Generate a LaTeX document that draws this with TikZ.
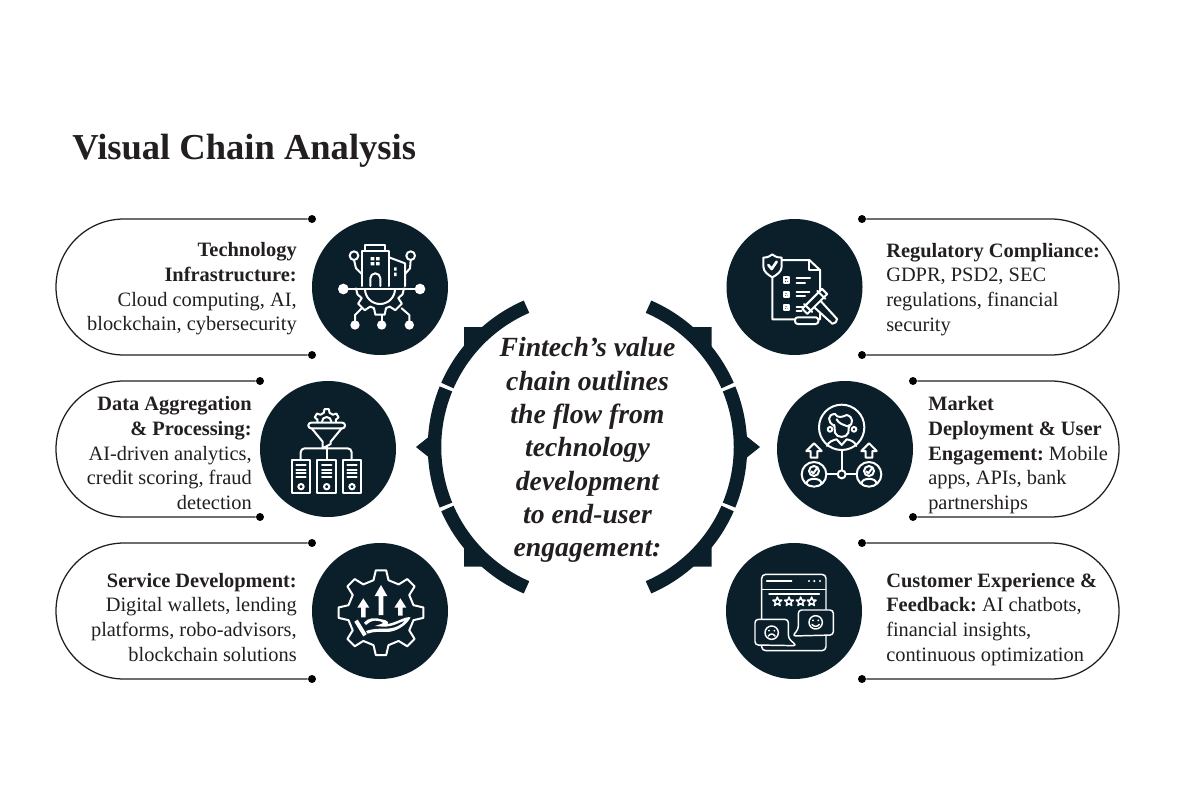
\documentclass[tikz,border=0pt]{standalone}
\usepackage{fontspec}
\setmainfont{Liberation Serif}
\frenchspacing
\definecolor{navy}{HTML}{0B1F2B}
\definecolor{ink}{HTML}{231F20}
\tikzset{
  hub/.style={circle,fill=navy,draw=none,minimum size=102pt,inner sep=0pt},
  tipdot/.style={circle,fill=black,draw=none,minimum size=6pt,inner sep=0pt},
  outline/.style={draw=ink,line width=0.95pt},
  ringarc/.style={draw=navy,line width=10.1pt},
  ic/.style={draw=white,line width=1.5pt,line join=round,line cap=round},
  icthin/.style={draw=white,line width=1.1pt,line join=round,line cap=round},
  icfill/.style={fill=white,draw=none},
  body/.style={inner sep=0pt,text=ink,font=\fontsize{15.3pt}{18.45pt}\selectfont},
  rightbody/.style={body,align=right,anchor=north east},
  leftbody/.style={body,align=left,anchor=north west},
  zoomA/.style={shift={(#1)},x=0.25pt,y=-0.25pt},
}
\newcommand{\firstline}{\rule{0pt}{15pt}}
\begin{document}
\begin{tikzpicture}[x=0.75pt,y=-0.75pt]
\useasboundingbox (0,0) rectangle (1200,800);
\fill[white] (0,0) rectangle (1200,800);
% title
\node[anchor=base west,inner sep=0pt,text=ink,font=\fontsize{27.4pt}{30pt}\selectfont\bfseries] (title) at (72,159) {Visual Chain Analysis};
% dots
\node[tipdot] (a1) at (312,219) {}; \node[tipdot] (a2) at (312,355) {};
\node[tipdot] (b1) at (260,381) {}; \node[tipdot] (b2) at (260,517) {};
\node[tipdot] (e1) at (312,543) {}; \node[tipdot] (e2) at (312,679) {};
\node[tipdot] (f1) at (862,219) {}; \node[tipdot] (f2) at (862,355) {};
\node[tipdot] (g1) at (913,381) {}; \node[tipdot] (g2) at (913,517) {};
\node[tipdot] (h1) at (862,543) {}; \node[tipdot] (h2) at (862,679) {};
% outlines
\draw[outline] (a1) -- (124,219) arc[start angle=270,end angle=90,radius=68] -- (a2);
\draw[outline] (b1) -- (124,381) arc[start angle=270,end angle=90,radius=68] -- (b2);
\draw[outline] (e1) -- (124,543) arc[start angle=270,end angle=90,radius=68] -- (e2);
\draw[outline] (f1) -- (1051,219) arc[start angle=270,end angle=450,radius=68] -- (f2);
\draw[outline] (g1) -- (1051,381) arc[start angle=270,end angle=450,radius=68] -- (g2);
\draw[outline] (h1) -- (1051,543) arc[start angle=270,end angle=450,radius=68] -- (h2);
% hubs
\node[hub] (c1) at (380,287) {};
\node[hub] (c2) at (328,449) {};
\node[hub] (c3) at (380,611) {};
\node[hub] (c4) at (794.5,287) {};
\node[hub] (c5) at (845,449) {};
\node[hub] (c6) at (794,611) {};
% ring
\begin{scope}[shift={(587.5,447)}]
\foreach \s/\e in {113.5/156.3,157.7/202.3,203.7/246.5,-66.5/-23.7,-22.3/22.3,23.7/66.5}
  \draw[ringarc] (\s:153) arc[start angle=\s,end angle=\e,radius=153];
\end{scope}
\fill[navy] (464,327) -- (486,327) -- (464,350) -- cycle;
\fill[navy] (711.7,327) -- (689.7,327) -- (711.7,350) -- cycle;
\fill[navy] (464,566.7) -- (486,566.7) -- (464,544) -- cycle;
\fill[navy] (711.7,566.7) -- (689.7,566.7) -- (711.7,544) -- cycle;
\fill[navy] (416,447) -- (431,435) -- (431,459) -- cycle;
\fill[navy] (760,447) -- (745,435) -- (745,459) -- cycle;
% texts
\node[rightbody] (t1) at (297,236.7) {\firstline\textbf{Technology}\\\textbf{Infrastructure:}\\Cloud computing, AI,\\blockchain, cybersecurity};
\node[rightbody] (t2) at (252,390.7) {\firstline\textbf{Data Aggregation}\\\textbf{\& Processing:}\\AI-driven analytics,\\credit scoring, fraud\\detection};
\node[rightbody] (t3) at (297,567) {\firstline\textbf{Service Development:}\\Digital wallets, lending\\platforms, robo-advisors,\\blockchain solutions};
\node[leftbody] (t4) at (886,237) {\firstline\textbf{Regulatory Compliance:}\\GDPR, PSD2, SEC\\regulations, financial\\security};
\node[leftbody] (t5) at (928,390.7) {\firstline\textbf{Market}\\\textbf{Deployment \& User}\\\textbf{Engagement:} Mobile\\apps, APIs, bank\\partnerships};
\node[leftbody] (t6) at (886,567) {\firstline\textbf{Customer Experience \&}\\\textbf{Feedback:} AI chatbots,\\financial insights,\\continuous optimization};
\node[inner sep=0pt,anchor=north,align=center,text=ink,font=\fontsize{20.8pt}{25pt}\selectfont\bfseries\itshape] (mid) at (587.5,330) {\rule{0pt}{20pt}Fintech’s value\\chain outlines\\the flow from\\technology\\development\\to end-user\\engagement:};
% icon 1
\begin{scope}[zoomA={50,200}]
\draw[ic] (945,152) -- (945,135) -- (1005,135) -- (1005,152);
\draw[ic] (935,258) -- (935,152) -- (1017,152) -- (1017,258);
\draw[ic] (1017,172) -- (1065,190) -- (1065,258);
\fill[white] (962,171) rectangle (973,181) (978,171) rectangle (989,181) (962,186) rectangle (973,196) (978,186) rectangle (989,196);
\fill[white] (1032,202) rectangle (1040,212) (1032,218) rectangle (1040,228);
\draw[ic] (961,258) -- (961,235) arc[start angle=180,end angle=360,radius=15] -- (991,258);
\draw[ic] (880,267) -- (1110,267);
\draw[ic] (945,267) arc[start angle=180,end angle=0,radius=45];
\begin{scope}[shift={(990,265)}]
\draw[ic] (180:72) -- (165:70) \foreach \a in {135,90,45} { -- (\a+17:62) -- (\a+10:80) -- (\a-10:80) -- (\a-17:62) } -- (15:70) -- (0:72);
\end{scope}
\draw[ic] (912,167) circle[radius=13];
\draw[ic] (1082,167) circle[radius=13];
\draw[ic] (912,180) -- (918,205) -- (935,222);
\draw[ic] (1082,180) -- (1080,205) -- (1065,222);
\fill[white] (880,267) circle[radius=16] (1110,267) circle[radius=16];
\fill[white] (915,375) circle[radius=14] (995,375) circle[radius=14] (1078,375) circle[radius=14];
\draw[ic] (915,375) -- (915,345) -- (935,325);
\draw[ic] (995,375) -- (995,345);
\draw[ic] (1078,375) -- (1078,345) -- (1055,325);
\end{scope}
% icon 2
\begin{scope}[zoomA={50,200}]
\begin{scope}[shift={(830,665)}]
\draw[ic] (180:28) \foreach \a in {-150,-90,-30} { -- (\a-18:28) -- (\a-10:38) -- (\a+10:38) -- (\a+18:28) } -- (0:28);
\draw[ic] (-14,0) arc[start angle=180,end angle=360,radius=14];
\end{scope}
\draw[ic,rounded corners=2pt] (775,668) rectangle (885,685);
\draw[ic] (785,685) -- (818,725) -- (818,745) -- (842,732) -- (842,725) -- (875,685);
\draw[ic] (830,740) -- (830,778);
\draw[ic,rounded corners=3pt] (752,778) -- (752,745) -- (905,745) -- (905,778);
\foreach \x in {725,802,878} {
  \draw[ic] (\x,780) rectangle (\x+56,880);
  \draw[ic] (\x+14,795) -- (\x+42,795);
  \draw[ic] (\x+14,810) -- (\x+42,810);
  \draw[ic] (\x+14,820) -- (\x+42,820);
  \draw[ic] (\x+14,830) -- (\x+42,830);
  \draw[ic] (\x+28,860) circle[radius=8];
}
\end{scope}
% icon 3
\begin{scope}[zoomA={300,530}]
\begin{scope}[shift={(243,248)}]
\draw[ic] (-13:100) \foreach \a in {0,45,...,315} { -- (\a-13:100) -- (\a-7:128) -- (\a+7:128) -- (\a+13:100) } -- cycle;
\end{scope}
\fill[white] (243,165) -- (262,198) -- (250,198) -- (250,255) -- (236,255) -- (236,198) -- (224,198) -- cycle;
\fill[white] (190,205) -- (208,233) -- (197,233) -- (197,262) -- (183,262) -- (183,233) -- (172,233) -- cycle;
\fill[white] (301,205) -- (319,233) -- (308,233) -- (308,257) -- (294,257) -- (294,233) -- (283,233) -- cycle;
\fill[white] (192,278) .. controls (205,262) and (225,262) .. (245,268) .. controls (262,270) and (268,278) .. (262,282) .. controls (290,278) and (315,258) .. (332,262) .. controls (320,285) and (290,305) .. (262,306) .. controls (245,306) and (225,303) .. (203,311) -- (198,303) .. controls (220,295) and (240,296) .. (260,296) .. controls (285,295) and (305,285) .. (315,272) .. controls (295,278) and (280,290) .. (250,290) -- (225,288) -- (248,280) .. controls (252,276) and (235,272) .. (225,272) .. controls (212,272) and (205,280) .. (198,285) -- cycle;
\draw[draw=white,line width=3pt] (168,272) -- (195,316);
\end{scope}
% icon 4
\begin{scope}[zoomA={710,210}]
\draw[ic] (187,200) -- (187,328) -- (330,328) -- (330,180) -- (298,150) -- (215,150);
\draw[ic] (298,150) -- (298,180) -- (330,180);
\draw[ic,fill=navy] (187,133) .. controls (175,142) and (168,143) .. (160,143) -- (160,170) .. controls (160,185) and (175,195) .. (187,202) .. controls (200,195) and (215,185) .. (215,170) -- (215,143) .. controls (205,143) and (198,142) .. (187,133) -- cycle;
\draw[draw=white,line width=2pt,line cap=round,line join=round] (175,165) -- (185,177) -- (200,155);
\foreach \y in {210,253,292} {
  \draw[ic] (222,\y-8) rectangle (238,\y+8);
  \draw[draw=white,line width=1.2pt] (226,\y-2) -- (230,\y+3) -- (236,\y-6);
}
\draw[ic] (260,205) -- (300,205) (260,218) -- (285,218);
\draw[ic] (260,245) -- (298,245) (260,258) -- (285,258);
\draw[ic] (260,292) -- (285,292) (260,303) -- (275,303);
\draw[ic,fill=navy,rounded corners=2pt] (255,322) rectangle (325,342);
\begin{scope}[shift={(312,272)},rotate=-45]
\draw[ic,fill=navy] (5,-14) -- (88,-10) -- (92,0) -- (88,10) -- (5,14) -- cycle;
\draw[ic,fill=navy] (-8,-42) rectangle (14,42);
\draw[ic] (-14,-28) -- (20,-28);
\draw[ic] (-14,28) -- (20,28);
\end{scope}
\end{scope}
% icon 5
\begin{scope}[zoomA={785,390}]
\draw[ic] (170,112) circle[radius=68];
\draw[ic] (148,105) -- (150,128) .. controls (155,145) and (185,145) .. (190,128) -- (192,105);
\draw[ic] (148,108) .. controls (125,95) and (128,72) .. (150,72) .. controls (158,85) and (170,82) .. (185,75) .. controls (205,80) and (205,100) .. (192,110) .. controls (175,105) and (160,100) .. (155,88);
\draw[ic] (135,118) circle[radius=7] (207,118) circle[radius=7];
\draw[ic] (126,168) .. controls (130,155) and (145,150) .. (155,148) -- (170,165) -- (185,148) .. controls (197,150) and (210,155) .. (214,168);
\draw[ic] (170,180) -- (170,241);
\draw[ic] (170,253) circle[radius=12];
\draw[ic] (125,253) -- (158,253) (182,253) -- (215,253);
\foreach \x in {87,252} {
  \draw[ic] (\x,253) circle[radius=37];
  \draw[ic] (\x,243) circle[radius=15];
  \draw[ic] (\x-8,244) -- (\x-2,250) -- (\x+8,236);
  \draw[ic] (\x-22,280) .. controls (\x-22,262) and (\x+22,262) .. (\x+22,280);
  \draw[ic] (\x,160) -- (\x+23,183) -- (\x+10,183) -- (\x+10,203) -- (\x-10,203) -- (\x-10,183) -- (\x-23,183) -- cycle;
}
\end{scope}
% icon 6
\begin{scope}[zoomA={715,530}]
\draw[icthin,rounded corners=3pt] (140,133) rectangle (333,362);
\draw[icthin] (140,178) -- (333,178);
\draw[icthin] (155,153) -- (230,153);
\fill[white] (282,153) circle[radius=3.5] (298,153) circle[radius=3.5] (315,153) circle[radius=3.5];
\draw[icthin] (162,192) -- (313,192);
\foreach \x in {187,222,257,290} {
  \begin{scope}[shift={(\x,215)}]
  \draw[icthin] (-90:14) -- (-54:6) -- (-18:14) -- (18:6) -- (54:14) -- (90:6) -- (126:14) -- (162:6) -- (198:14) -- (234:6) -- cycle;
  \end{scope}
}
\draw[icthin,fill=navy,rounded corners=2.5pt] (250,240) -- (355,240) -- (355,315) -- (232,318) -- (250,298) -- cycle;
\draw[icthin,fill=navy,rounded corners=2.5pt] (120,268) -- (220,268) -- (220,325) -- (245,347) -- (120,345) -- cycle;
\draw[icthin] (302,277) circle[radius=20];
\fill[white] (294,271) circle[radius=3] (310,271) circle[radius=3];
\draw[icthin] (291,283) .. controls (296,291) and (308,291) .. (313,283);
\draw[icthin] (170,308) circle[radius=20];
\fill[white] (162,302) circle[radius=3] (178,302) circle[radius=3];
\draw[icthin] (160,318) .. controls (165,310) and (175,310) .. (180,318);
\end{scope}
\end{tikzpicture}
\end{document}
